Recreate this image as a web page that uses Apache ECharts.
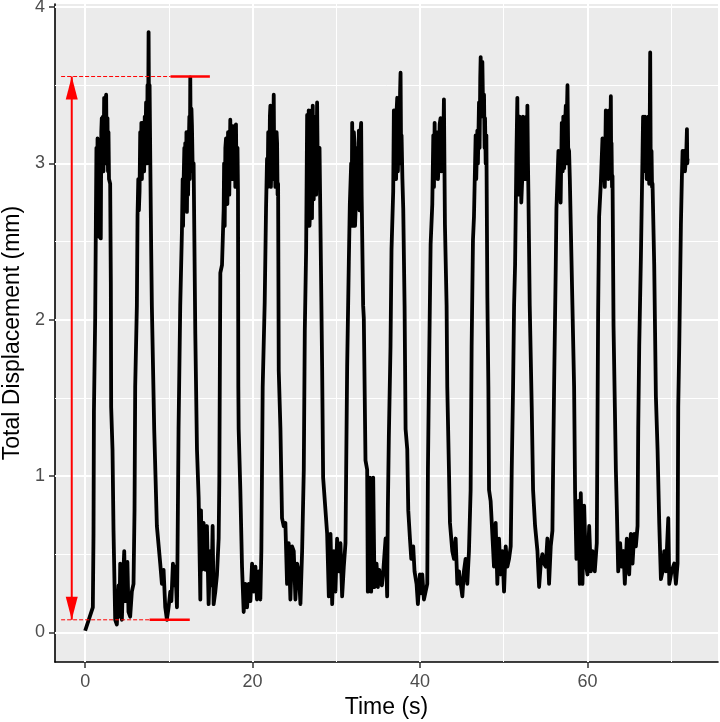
<!DOCTYPE html>
<html>
<head>
<meta charset="utf-8">
<script src="https://cdn.jsdelivr.net/npm/echarts@6.0.0/dist/echarts.min.js"></script>
<style>html,body{margin:0;padding:0;background:#fff}#chart{width:720px;height:722px}</style>
</head>
<body>
<div id="chart"></div>
<script>
// ---- data: [time (s), total displacement (mm)], cycle by cycle ----
const cycle1 = [[0,0.01],[0.92,0.16],[1.0,0.63],[1.05,1.41],[1.2,2.01],[1.28,2.61],[1.35,3.1],[1.42,2.55],[1.48,3.16],[1.55,2.6],[1.6,3.13],[1.7,2.53],[1.8,3.1],[1.87,2.52],[1.93,3.2],[1.99,3.29],[2.05,2.95],[2.12,3.3],[2.19,2.95],[2.27,3.42],[2.35,3.0],[2.42,3.4],[2.51,3.44],[2.58,3.0],[2.67,3.29],[2.73,2.95],[2.79,3.2],[2.85,2.9],[2.99,2.87],[3.07,2.24],[3.11,1.44],[3.27,1.17],[3.39,0.65],[3.59,0.08],[3.79,0.05],[4.0,0.3],[4.1,0.1],[4.19,0.44],[4.39,0.08],[4.5,0.3],[4.67,0.52],[4.8,0.2],[4.9,0.31],[5.05,0.45],[5.18,0.13],[5.38,0.10],[5.58,0.26],[5.78,0.31]];
const cycle2 = [[5.9,0.78],[5.98,1.57],[6.18,2.09],[6.26,2.66],[6.35,2.9],[6.42,2.7],[6.5,2.82],[6.58,3.2],[6.66,2.97],[6.72,3.26],[6.78,2.9],[6.85,3.26],[6.98,3.26],[7.05,2.95],[7.12,3.3],[7.18,3.05],[7.28,3.39],[7.38,3.0],[7.45,3.5],[7.52,3.2],[7.58,3.84],[7.65,3.1],[7.7,3.5],[7.78,3.03],[7.89,2.45],[7.97,2.09],[8.25,1.30],[8.57,0.68],[8.97,0.44],[9.17,0.31],[9.37,0.4],[9.57,0.16],[9.77,0.08],[9.97,0.16],[10.17,0.26],[10.3,0.2],[10.49,0.44],[10.63,0.3],[10.77,0.42],[10.97,0.16]];
const cycle3 = [[11.04,0.52],[11.16,1.30],[11.36,2.09],[11.56,2.56],[11.65,2.9],[11.7,2.6],[11.76,2.87],[11.85,3.1],[11.9,2.75],[11.96,3.13],[12.05,2.8],[12.1,3.2],[12.16,2.69],[12.25,3.15],[12.3,2.8],[12.36,3.05],[12.45,3.3],[12.5,2.9],[12.56,3.55],[12.63,3.0],[12.7,3.35],[12.76,3.24],[12.85,2.95],[12.96,3.0],[13.16,1.91],[13.36,1.17],[13.56,0.86],[13.76,0.21],[13.84,0.78],[13.95,0.4],[14.15,0.70],[14.35,0.4],[14.55,0.68],[14.75,0.18],[14.95,0.52],[15.1,0.3],[15.23,0.68],[15.35,0.18],[15.55,0.26],[15.75,0.37],[15.95,0.60]];
const cycle4 = [[16.03,0.97],[16.15,2.30],[16.35,2.35],[16.55,2.71],[16.6,3.0],[16.67,2.6],[16.75,3.1],[16.83,3.16],[16.9,2.8],[16.99,2.74],[17.07,3.2],[17.15,3.13],[17.22,2.8],[17.34,3.28],[17.42,2.9],[17.54,3.24],[17.62,2.9],[17.74,2.95],[17.8,3.2],[17.86,3.24],[17.94,2.85],[18.02,3.25],[18.08,2.9],[18.14,2.92],[18.2,3.1],[18.26,2.82],[18.3,1.57],[18.34,1.30],[18.54,0.91],[18.74,0.42],[18.94,0.13],[19.14,0.31],[19.34,0.16],[19.54,0.31],[19.74,0.2],[19.94,0.44],[20.14,0.26],[20.34,0.42],[20.53,0.21],[20.73,0.39],[20.93,0.21]];
const cycle5 = [[21.05,0.52],[21.21,1.57],[21.45,2.11],[21.61,2.71],[21.73,3.03],[21.8,2.85],[21.87,3.2],[21.93,3.16],[22.0,2.9],[22.07,3.3],[22.13,3.37],[22.19,2.85],[22.25,3.0],[22.35,3.3],[22.42,2.95],[22.53,3.44],[22.6,2.9],[22.65,3.18],[22.72,2.85],[22.81,2.95],[22.87,3.2],[22.93,3.13],[22.99,2.8],[23.05,2.87],[23.13,1.67],[23.33,1.30],[23.52,0.73],[23.72,0.68],[23.92,0.70],[24.12,0.31],[24.32,0.57],[24.52,0.21],[24.72,0.55],[24.92,0.52],[25.12,0.21],[25.32,0.44],[25.52,0.39],[25.72,0.18],[25.92,0.52]];
const cycle6 = [[26.12,1.04],[26.24,1.93],[26.4,2.45],[26.52,3.31],[26.6,2.7],[26.71,3.34],[26.8,2.6],[26.91,2.74],[26.97,3.3],[27.03,3.34],[27.1,2.65],[27.19,3.37],[27.25,2.8],[27.31,2.77],[27.4,3.3],[27.51,3.13],[27.6,2.8],[27.71,3.39],[27.8,2.9],[27.91,2.87],[28.0,3.1],[28.11,2.61],[28.31,1.70],[28.43,0.99],[28.71,0.78],[28.91,0.63],[29.11,0.23],[29.31,0.63],[29.51,0.18],[29.71,0.52],[29.9,0.26],[30.1,0.60],[30.3,0.39],[30.5,0.57],[30.7,0.23],[30.9,0.42],[31.1,0.57]];
const cycle7 = [[31.22,1.25],[31.3,1.70],[31.5,2.37],[31.62,2.74],[31.78,3.0],[31.84,2.7],[31.9,3.26],[31.96,2.6],[32.02,2.74],[32.1,3.2],[32.18,3.13],[32.24,2.6],[32.3,2.69],[32.4,3.1],[32.5,3.05],[32.6,2.75],[32.7,3.21],[32.76,2.7],[32.82,2.79],[32.9,3.2],[32.97,3.26],[33.03,2.8],[33.09,2.79],[33.21,2.09],[33.29,2.01],[33.49,1.10],[33.69,1.04],[33.77,0.26],[34.01,0.99],[34.17,0.26],[34.41,0.99],[34.57,0.29],[34.81,0.44],[34.97,0.29],[35.13,0.4],[35.29,0.34],[35.45,0.3],[35.61,0.39],[35.89,0.60],[36.08,0.23]];
const cycle8 = [[36.16,0.78],[36.28,1.25],[36.48,1.83],[36.6,2.45],[36.8,2.82],[36.88,3.34],[36.95,2.9],[37.02,3.3],[37.08,3.34],[37.15,2.9],[37.22,3.35],[37.28,3.42],[37.36,2.95],[37.48,3.26],[37.55,3.0],[37.62,3.45],[37.68,3.58],[37.74,3.1],[37.8,3.18],[37.9,2.9],[38.0,2.71],[38.16,2.09],[38.28,1.30],[38.48,1.17],[38.6,0.78],[38.8,0.60],[38.96,0.47],[39.19,0.55],[39.35,0.39],[39.59,0.31],[39.75,0.18],[39.99,0.37],[40.13,0.25],[40.27,0.37],[40.47,0.21],[40.67,0.26],[40.87,0.31]];
const cycle9 = [[40.95,1.04],[41.07,1.62],[41.27,2.48],[41.47,2.74],[41.59,3.18],[41.67,2.85],[41.75,3.26],[41.81,2.9],[41.87,2.95],[41.95,3.2],[42.07,3.18],[42.15,2.9],[42.27,3.05],[42.35,3.25],[42.46,3.29],[42.55,2.95],[42.66,3.18],[42.75,3.0],[42.86,3.41],[42.92,3.0],[42.98,2.61],[43.18,2.09],[43.26,1.57],[43.46,1.04],[43.58,0.70],[43.86,0.52],[44.06,0.47],[44.26,0.60],[44.46,0.31],[44.66,0.39],[44.86,0.31],[45.06,0.23],[45.25,0.39],[45.45,0.47],[45.65,0.31],[45.85,0.52]];
const cycle10 = [[46.05,0.91],[46.17,1.83],[46.33,2.51],[46.45,2.66],[46.65,3.18],[46.72,2.9],[46.85,3.21],[46.92,3.0],[47.05,3.39],[47.12,3.1],[47.2,3.55],[47.25,3.68],[47.35,3.3],[47.45,3.65],[47.55,3.3],[47.65,3.44],[47.72,3.1],[47.77,3.29],[47.85,3.0],[47.93,3.18],[48.05,2.14],[48.17,1.57],[48.25,0.91],[48.44,0.84],[48.64,0.63],[48.84,0.42],[49.04,0.70],[49.24,0.31],[49.44,0.60],[49.64,0.37],[49.84,0.52],[50.04,0.26],[50.24,0.55],[50.44,0.42],[50.64,0.47],[50.84,0.55]];
const cycle11 = [[50.96,1.04],[51.12,1.57],[51.24,2.09],[51.36,2.35],[51.52,3.05],[51.63,3.42],[51.7,2.8],[51.77,3.2],[51.83,2.87],[51.9,3.3],[52.03,3.13],[52.1,2.75],[52.23,2.92],[52.3,3.3],[52.43,3.26],[52.5,2.9],[52.63,3.05],[52.7,3.3],[52.76,2.9],[52.83,3.37],[52.9,3.0],[52.95,2.82],[53.11,2.09],[53.35,1.44],[53.51,0.91],[53.75,0.68],[54.03,0.52],[54.23,0.29],[54.43,0.44],[54.62,0.50],[54.82,0.44],[55.02,0.42],[55.22,0.60],[55.42,0.31],[55.62,0.55],[55.82,0.65]];
const cycle12 = [[55.9,1.04],[56.02,1.57],[56.22,2.35],[56.3,2.71],[56.54,3.08],[56.6,2.8],[56.7,3.08],[56.8,2.75],[56.94,3.26],[57.05,2.95],[57.12,3.3],[57.22,2.97],[57.3,3.2],[57.42,3.37],[57.5,3.0],[57.56,3.35],[57.62,3.50],[57.7,3.1],[57.81,3.08],[57.9,2.9],[58.01,2.61],[58.21,2.09],[58.41,1.57],[58.53,0.89],[58.69,0.47],[58.93,0.84],[59.09,0.31],[59.21,0.89],[59.41,0.31],[59.61,0.81],[59.81,0.44],[60.01,0.37],[60.21,0.68],[60.41,0.39],[60.61,0.52],[60.88,0.39],[61.12,0.57]];
const cycle13 = [[61.2,1.30],[61.28,2.04],[61.4,2.66],[61.6,2.87],[61.8,3.16],[61.88,2.9],[62.0,3.05],[62.08,2.85],[62.2,3.34],[62.3,2.95],[62.4,3.13],[62.5,2.9],[62.6,3.34],[62.7,3.0],[62.8,3.43],[62.84,3.0],[62.88,3.13],[62.94,2.85],[63.0,2.92],[63.12,1.96],[63.28,1.44],[63.4,1.04],[63.52,0.78],[63.68,0.39],[63.91,0.57],[64.07,0.42],[64.31,0.52],[64.47,0.31],[64.71,0.60],[64.99,0.37],[65.19,0.63],[65.39,0.44],[65.59,0.63],[65.79,0.55],[65.99,0.68]];
const cycle14 = [[66.07,1.30],[66.19,1.83],[66.39,2.40],[66.59,3.08],[66.65,3.3],[66.72,2.95],[66.79,3.11],[66.88,3.3],[66.99,3.26],[67.08,2.9],[67.18,3.05],[67.28,3.3],[67.38,2.87],[67.44,3.2],[67.5,3.71],[67.56,3.0],[67.66,3.08],[67.72,2.85],[67.78,2.87],[67.98,2.35],[68.18,1.51],[68.38,1.17],[68.58,0.70],[68.78,0.34],[68.98,0.39],[69.18,0.52],[69.38,0.39],[69.66,0.73],[69.78,0.31],[70.05,0.39],[70.37,0.44],[70.57,0.31],[70.77,0.44]];
const cycle15 = [[70.85,1.44],[70.97,1.83],[71.17,2.61],[71.29,2.92],[71.37,3.08],[71.45,2.95],[71.57,3.08],[71.65,2.95],[71.77,3.03],[71.83,3.1],[71.89,3.22],[71.93,3.0],[71.97,3.03]];

// axis ticks
const xTicks = [0, 20, 40, 60];
const xMinorTicks = [10, 30, 50, 70];
const yTicks = [0, 1, 2, 3, 4];
const yMinorTicks = [0.5, 1.5, 2.5, 3.5];

// annotation values (data units)
const refTop = 3.556;       // upper reference level (mm)
const refBottom = 0.08;     // lower reference level (mm)
const dashStart = -2.87;    // dashed guides start (s)
const topSolid = [10.2, 14.9];
const bottomSolid = [7.7, 12.5];
const arrowTime = -1.6;

const trace = [].concat(cycle1, cycle2, cycle3, cycle4, cycle5, cycle6, cycle7, cycle8,
  cycle9, cycle10, cycle11, cycle12, cycle13, cycle14, cycle15);

const FONT = '"Liberation Sans", Arial, Helvetica, sans-serif';
const RED = '#FF0000';

const gridLines = [].concat(
  xTicks.map(v => ({ xAxis: v, lineStyle: { color: '#FFFFFF', width: 2, type: 'solid' } })),
  xMinorTicks.map(v => ({ xAxis: v, lineStyle: { color: '#FFFFFF', width: 1, type: 'solid' } })),
  yTicks.map(v => ({ yAxis: v, lineStyle: { color: '#FFFFFF', width: 2, type: 'solid' } })),
  yMinorTicks.map(v => ({ yAxis: v, lineStyle: { color: '#FFFFFF', width: 1, type: 'solid' } }))
);

const chart = echarts.init(document.getElementById('chart'), null, { renderer: 'canvas' });
chart.setOption({
  animation: false,
  backgroundColor: '#FFFFFF',
  grid: { left: 55, right: 2, top: 4, bottom: 60, show: true, backgroundColor: '#EBEBEB', borderWidth: 0, containLabel: false, outerBoundsMode: 'none' },
  xAxis: {
    type: 'value', min: -3.6, max: 75.6,
    name: 'Time (s)', nameLocation: 'middle', nameGap: 34,
    nameTextStyle: { color: '#000', fontSize: 23, fontFamily: FONT },
    axisLine: { show: true, onZero: false, lineStyle: { color: '#000', width: 1.6 } },
    axisTick: { show: true, customValues: xTicks, length: 6, lineStyle: { color: '#333', width: 1.5 } },
    axisLabel: { customValues: xTicks, color: '#4D4D4D', fontSize: 18, fontFamily: FONT, margin: 11 },
    splitLine: { show: false }
  },
  yAxis: {
    type: 'value', min: -0.19, max: 4.02,
    name: 'Total Displacement (mm)', nameLocation: 'middle', nameGap: 31,
    nameTextStyle: { color: '#000', fontSize: 23, fontFamily: FONT },
    axisLine: { show: true, onZero: false, lineStyle: { color: '#000', width: 1.6 } },
    axisTick: { show: true, customValues: yTicks, length: 6, lineStyle: { color: '#333', width: 1.5 } },
    axisLabel: { customValues: yTicks, color: '#4D4D4D', fontSize: 18, fontFamily: FONT, margin: 10 },
    splitLine: { show: false }
  },
  series: [
    {
      type: 'line', data: [], z: 1, silent: true,
      markLine: { z: 1, silent: true, symbol: ['none', 'none'], label: { show: false }, animation: false, data: gridLines }
    },
    {
      type: 'line', data: trace, z: 3, symbol: 'none', silent: true,
      lineStyle: { color: '#000000', width: 3.8, join: 'round', cap: 'butt' }
    },
    {
      type: 'line', data: [[dashStart, refTop], [topSolid[0], refTop]], z: 4, symbol: 'none', silent: true,
      lineStyle: { color: RED, width: 1, type: [4, 2] }
    },
    {
      type: 'line', data: [[topSolid[0], refTop], [topSolid[1], refTop]], z: 4, symbol: 'none', silent: true,
      lineStyle: { color: RED, width: 2.5 }
    },
    {
      type: 'line', data: [[dashStart, refBottom], [bottomSolid[0], refBottom]], z: 4, symbol: 'none', silent: true,
      lineStyle: { color: RED, width: 1, type: [4, 2] }
    },
    {
      type: 'line', data: [[bottomSolid[0], refBottom], [bottomSolid[1], refBottom]], z: 4, symbol: 'none', silent: true,
      lineStyle: { color: RED, width: 2.5 }
    },
    {
      type: 'line', z: 5, silent: true, showSymbol: true, showAllSymbol: true,
      itemStyle: { color: RED, borderWidth: 0 },
      lineStyle: { color: RED, width: 2 },
      data: [
        { value: [arrowTime, refBottom], symbol: 'triangle', symbolSize: [12, 23], symbolRotate: 180, symbolOffset: [0, -11.5] },
        { value: [arrowTime, refTop], symbol: 'triangle', symbolSize: [12, 23], symbolOffset: [0, 11.5] }
      ]
    }
  ]
});
</script>
</body>
</html>
